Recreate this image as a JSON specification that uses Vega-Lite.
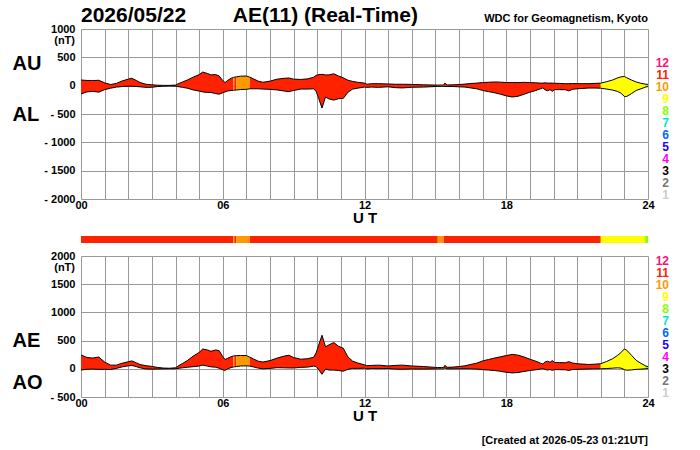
{
"$schema":"https://vega.github.io/schema/vega-lite/v6.json",
"padding":{"left":12,"top":5,"right":5,"bottom":5},
"background":"white",
"config":{"font":"Liberation Sans","view":{"stroke":null},
 "axis":{"labelFont":"Liberation Sans","labelFontWeight":"bold","labelFontSize":11,"labelColor":"black","titleFont":"Liberation Sans","titleColor":"black","gridColor":"#999999","gridOpacity":1,"gridWidth":1,"labelOverlap":false},
 "text":{"font":"Liberation Sans"}},
"datasets":{
"key":[{"n":1},{"n":2},{"n":3},{"n":4},{"n":5},{"n":6},{"n":7},{"n":8},{"n":9},{"n":10},{"n":11},{"n":12}],
"ae":[
{"t":0,"AU":100,"AL":-145,"AE":245,"AO":-22.5,"n":11,"seg":1},
{"t":0.25,"AU":92,"AL":-110,"AE":202,"AO":-9,"n":11,"seg":1},
{"t":0.5,"AU":90,"AL":-100,"AE":190,"AO":-5,"n":11,"seg":1},
{"t":0.75,"AU":95,"AL":-115,"AE":210,"AO":-10,"n":11,"seg":1},
{"t":1,"AU":50,"AL":-70,"AE":120,"AO":-10,"n":11,"seg":1},
{"t":1.25,"AU":20,"AL":-45,"AE":65,"AO":-12.5,"n":11,"seg":1},
{"t":1.5,"AU":40,"AL":-25,"AE":65,"AO":7.5,"n":11,"seg":1},
{"t":1.75,"AU":85,"AL":-15,"AE":100,"AO":35,"n":11,"seg":1},
{"t":2,"AU":115,"AL":-10,"AE":125,"AO":52.5,"n":11,"seg":1},
{"t":2.15,"AU":130,"AL":-10,"AE":140,"AO":60,"n":11,"seg":1},
{"t":2.35,"AU":90,"AL":-15,"AE":105,"AO":37.5,"n":11,"seg":1},
{"t":2.5,"AU":55,"AL":-20,"AE":75,"AO":17.5,"n":11,"seg":1},
{"t":2.75,"AU":25,"AL":-30,"AE":55,"AO":-2.5,"n":11,"seg":1},
{"t":3,"AU":15,"AL":-28,"AE":43,"AO":-6.5,"n":11,"seg":1},
{"t":3.25,"AU":8,"AL":-15,"AE":23,"AO":-3.5,"n":11,"seg":1},
{"t":3.5,"AU":5,"AL":-8,"AE":13,"AO":-1.5,"n":11,"seg":1},
{"t":3.75,"AU":5,"AL":-5,"AE":10,"AO":0,"n":11,"seg":1},
{"t":4,"AU":10,"AL":-8,"AE":18,"AO":1,"n":11,"seg":1},
{"t":4.15,"AU":40,"AL":-20,"AE":60,"AO":10,"n":11,"seg":1},
{"t":4.3,"AU":65,"AL":-30,"AE":95,"AO":17.5,"n":11,"seg":1},
{"t":4.5,"AU":100,"AL":-45,"AE":145,"AO":27.5,"n":11,"seg":1},
{"t":4.75,"AU":150,"AL":-75,"AE":225,"AO":37.5,"n":11,"seg":1},
{"t":5,"AU":195,"AL":-95,"AE":290,"AO":50,"n":11,"seg":1},
{"t":5.15,"AU":240,"AL":-110,"AE":350,"AO":65,"n":11,"seg":1},
{"t":5.35,"AU":215,"AL":-120,"AE":335,"AO":47.5,"n":11,"seg":1},
{"t":5.5,"AU":190,"AL":-120,"AE":310,"AO":35,"n":11,"seg":1},
{"t":5.7,"AU":195,"AL":-140,"AE":335,"AO":27.5,"n":11,"seg":1},
{"t":5.85,"AU":170,"AL":-150,"AE":320,"AO":10,"n":11,"seg":1},
{"t":6,"AU":90,"AL":-125,"AE":215,"AO":-17.5,"n":11,"seg":1},
{"t":6.1,"AU":55,"AL":-110,"AE":165,"AO":-27.5,"n":11,"seg":1},
{"t":6.2,"AU":90,"AL":-95,"AE":185,"AO":-2.5,"n":11,"seg":1},
{"t":6.35,"AU":130,"AL":-85,"AE":215,"AO":22.5,"n":11,"seg":1},
{"t":6.45,"AU":145,"AL":-82,"AE":227,"AO":31.5,"n":11,"seg":1},
{"t":6.45,"AU":145,"AL":-82,"AE":227,"AO":31.5,"n":10,"seg":2},
{"t":6.49,"AU":150,"AL":-80,"AE":230,"AO":35,"n":10,"seg":2},
{"t":6.49,"AU":150,"AL":-80,"AE":230,"AO":35,"n":11,"seg":3},
{"t":6.57,"AU":155,"AL":-78,"AE":233,"AO":38.5,"n":11,"seg":3},
{"t":6.57,"AU":155,"AL":-78,"AE":233,"AO":38.5,"n":10,"seg":4},
{"t":6.75,"AU":168,"AL":-68,"AE":236,"AO":50,"n":10,"seg":4},
{"t":7,"AU":170,"AL":-65,"AE":235,"AO":52.5,"n":10,"seg":4},
{"t":7.15,"AU":150,"AL":-55,"AE":205,"AO":47.5,"n":10,"seg":4},
{"t":7.15,"AU":150,"AL":-55,"AE":205,"AO":47.5,"n":11,"seg":5},
{"t":7.3,"AU":120,"AL":-55,"AE":175,"AO":32.5,"n":11,"seg":5},
{"t":7.5,"AU":80,"AL":-55,"AE":135,"AO":12.5,"n":11,"seg":5},
{"t":7.7,"AU":60,"AL":-60,"AE":120,"AO":0,"n":11,"seg":5},
{"t":8,"AU":80,"AL":-65,"AE":145,"AO":7.5,"n":11,"seg":5},
{"t":8.3,"AU":115,"AL":-75,"AE":190,"AO":20,"n":11,"seg":5},
{"t":8.6,"AU":130,"AL":-95,"AE":225,"AO":17.5,"n":11,"seg":5},
{"t":8.8,"AU":135,"AL":-105,"AE":240,"AO":15,"n":11,"seg":5},
{"t":9,"AU":115,"AL":-85,"AE":200,"AO":15,"n":11,"seg":5},
{"t":9.3,"AU":110,"AL":-60,"AE":170,"AO":25,"n":11,"seg":5},
{"t":9.6,"AU":120,"AL":-60,"AE":180,"AO":30,"n":11,"seg":5},
{"t":9.85,"AU":150,"AL":-55,"AE":205,"AO":47.5,"n":11,"seg":5},
{"t":9.95,"AU":180,"AL":-100,"AE":280,"AO":40,"n":11,"seg":5},
{"t":10.05,"AU":195,"AL":-210,"AE":405,"AO":-7.5,"n":11,"seg":5},
{"t":10.2,"AU":200,"AL":-395,"AE":595,"AO":-97.5,"n":11,"seg":5},
{"t":10.35,"AU":190,"AL":-200,"AE":390,"AO":-5,"n":11,"seg":5},
{"t":10.5,"AU":190,"AL":-235,"AE":425,"AO":-22.5,"n":11,"seg":5},
{"t":10.7,"AU":210,"AL":-255,"AE":465,"AO":-22.5,"n":11,"seg":5},
{"t":10.9,"AU":170,"AL":-230,"AE":400,"AO":-30,"n":11,"seg":5},
{"t":11.1,"AU":140,"AL":-225,"AE":365,"AO":-42.5,"n":11,"seg":5},
{"t":11.3,"AU":95,"AL":-115,"AE":210,"AO":-10,"n":11,"seg":5},
{"t":11.5,"AU":75,"AL":-60,"AE":135,"AO":7.5,"n":11,"seg":5},
{"t":11.7,"AU":60,"AL":-45,"AE":105,"AO":7.5,"n":11,"seg":5},
{"t":12,"AU":45,"AL":-25,"AE":70,"AO":10,"n":11,"seg":5},
{"t":12.1,"AU":25,"AL":-30,"AE":55,"AO":-2.5,"n":11,"seg":5},
{"t":12.3,"AU":35,"AL":-25,"AE":60,"AO":5,"n":11,"seg":5},
{"t":12.6,"AU":35,"AL":-30,"AE":65,"AO":2.5,"n":11,"seg":5},
{"t":13,"AU":30,"AL":-20,"AE":50,"AO":5,"n":11,"seg":5},
{"t":13.3,"AU":25,"AL":-35,"AE":60,"AO":-5,"n":11,"seg":5},
{"t":13.6,"AU":25,"AL":-40,"AE":65,"AO":-7.5,"n":11,"seg":5},
{"t":14,"AU":22,"AL":-28,"AE":50,"AO":-3,"n":11,"seg":5},
{"t":14.5,"AU":15,"AL":-25,"AE":40,"AO":-5,"n":11,"seg":5},
{"t":15,"AU":10,"AL":-15,"AE":25,"AO":-2.5,"n":11,"seg":5},
{"t":15.1,"AU":10,"AL":-12,"AE":22,"AO":-1,"n":11,"seg":5},
{"t":15.1,"AU":10,"AL":-12,"AE":22,"AO":-1,"n":10,"seg":6},
{"t":15.25,"AU":12,"AL":-12,"AE":24,"AO":0,"n":10,"seg":6},
{"t":15.35,"AU":10,"AL":-12,"AE":22,"AO":-1,"n":10,"seg":6},
{"t":15.35,"AU":10,"AL":-12,"AE":22,"AO":-1,"n":11,"seg":7},
{"t":15.4,"AU":45,"AL":-15,"AE":60,"AO":15,"n":11,"seg":7},
{"t":15.5,"AU":12,"AL":-15,"AE":27,"AO":-1.5,"n":11,"seg":7},
{"t":15.75,"AU":15,"AL":-15,"AE":30,"AO":0,"n":11,"seg":7},
{"t":16,"AU":20,"AL":-20,"AE":40,"AO":0,"n":11,"seg":7},
{"t":16.25,"AU":28,"AL":-25,"AE":53,"AO":1.5,"n":11,"seg":7},
{"t":16.5,"AU":38,"AL":-40,"AE":78,"AO":-1,"n":11,"seg":7},
{"t":16.75,"AU":45,"AL":-55,"AE":100,"AO":-5,"n":11,"seg":7},
{"t":17,"AU":55,"AL":-85,"AE":140,"AO":-15,"n":11,"seg":7},
{"t":17.25,"AU":60,"AL":-105,"AE":165,"AO":-22.5,"n":11,"seg":7},
{"t":17.5,"AU":65,"AL":-125,"AE":190,"AO":-30,"n":11,"seg":7},
{"t":17.75,"AU":62,"AL":-150,"AE":212,"AO":-44,"n":11,"seg":7},
{"t":18,"AU":55,"AL":-180,"AE":235,"AO":-62.5,"n":11,"seg":7},
{"t":18.25,"AU":55,"AL":-200,"AE":255,"AO":-72.5,"n":11,"seg":7},
{"t":18.5,"AU":55,"AL":-187,"AE":242,"AO":-66,"n":11,"seg":7},
{"t":18.75,"AU":58,"AL":-152,"AE":210,"AO":-47,"n":11,"seg":7},
{"t":19,"AU":55,"AL":-115,"AE":170,"AO":-30,"n":11,"seg":7},
{"t":19.25,"AU":50,"AL":-85,"AE":135,"AO":-17.5,"n":11,"seg":7},
{"t":19.45,"AU":45,"AL":-55,"AE":100,"AO":-5,"n":11,"seg":7},
{"t":19.55,"AU":45,"AL":-40,"AE":85,"AO":2.5,"n":11,"seg":7},
{"t":19.65,"AU":50,"AL":-75,"AE":125,"AO":-12.5,"n":11,"seg":7},
{"t":19.75,"AU":45,"AL":-90,"AE":135,"AO":-22.5,"n":11,"seg":7},
{"t":19.85,"AU":45,"AL":-70,"AE":115,"AO":-12.5,"n":11,"seg":7},
{"t":19.95,"AU":45,"AL":-100,"AE":145,"AO":-27.5,"n":11,"seg":7},
{"t":20.05,"AU":42,"AL":-70,"AE":112,"AO":-14,"n":11,"seg":7},
{"t":20.25,"AU":40,"AL":-70,"AE":110,"AO":-15,"n":11,"seg":7},
{"t":20.5,"AU":35,"AL":-72,"AE":107,"AO":-18.5,"n":11,"seg":7},
{"t":20.65,"AU":35,"AL":-92,"AE":127,"AO":-28.5,"n":11,"seg":7},
{"t":20.8,"AU":38,"AL":-65,"AE":103,"AO":-13.5,"n":11,"seg":7},
{"t":21,"AU":35,"AL":-55,"AE":90,"AO":-10,"n":11,"seg":7},
{"t":21.25,"AU":35,"AL":-48,"AE":83,"AO":-6.5,"n":11,"seg":7},
{"t":21.5,"AU":35,"AL":-42,"AE":77,"AO":-3.5,"n":11,"seg":7},
{"t":21.75,"AU":40,"AL":-42,"AE":82,"AO":-1,"n":11,"seg":7},
{"t":22,"AU":45,"AL":-45,"AE":90,"AO":0,"n":11,"seg":7},
{"t":22,"AU":45,"AL":-45,"AE":90,"AO":0,"n":9,"seg":8},
{"t":22.25,"AU":70,"AL":-60,"AE":130,"AO":5,"n":9,"seg":8},
{"t":22.5,"AU":100,"AL":-78,"AE":178,"AO":11,"n":9,"seg":8},
{"t":22.7,"AU":135,"AL":-100,"AE":235,"AO":17.5,"n":9,"seg":8},
{"t":22.85,"AU":155,"AL":-130,"AE":285,"AO":12.5,"n":9,"seg":8},
{"t":23,"AU":162,"AL":-190,"AE":352,"AO":-14,"n":9,"seg":8},
{"t":23.1,"AU":140,"AL":-190,"AE":330,"AO":-25,"n":9,"seg":8},
{"t":23.3,"AU":100,"AL":-140,"AE":240,"AO":-20,"n":9,"seg":8},
{"t":23.5,"AU":65,"AL":-85,"AE":150,"AO":-10,"n":9,"seg":8},
{"t":23.7,"AU":42,"AL":-55,"AE":97,"AO":-6.5,"n":9,"seg":8},
{"t":23.88,"AU":28,"AL":-27,"AE":55,"AO":0.5,"n":9,"seg":8},
{"t":23.88,"AU":28,"AL":-27,"AE":55,"AO":0.5,"n":8,"seg":9},
{"t":24,"AU":22,"AL":-15,"AE":37,"AO":3.5,"n":8,"seg":9}
]},
"spacing":37,
"bounds":"flush",
"vconcat":[
{
 "width":567,"height":170,
 "title":{"text":"2026/05/22\u00a0\u00a0\u00a0\u00a0\u00a0\u00a0\u00a0\u00a0AE(11) (Real-Time)","anchor":"start","frame":"group","font":"Liberation Sans","fontSize":21,"fontWeight":"bold","color":"black","offset":0,"dy":13},
 "resolve":{"scale":{"y":"independent"}},
 "layer":[
  {"data":{"name":"ae"},
   "layer":[
    {"mark":{"type":"area"},
     "encoding":{
      "x":{"field":"t","type":"quantitative","scale":{"domain":[0,24],"nice":false,"zero":false},
       "axis":{"values":[0,1,2,3,4,5,6,7,8,9,10,11,12,13,14,15,16,17,18,19,20,21,22,23,24],"tickCount":100,"labelExpr":"datum.value % 6 == 0 ? format(datum.value, '02d') : ''","grid":true,"ticks":false,"domain":false,"labelFlush":false,"labelOverlap":false,"labelPadding":0,"title":"U T","titleFontSize":15,"titleFontWeight":"bold","titlePadding":0}},
      "y":{"field":"AL","type":"quantitative","scale":{"domain":[-2000,1000],"nice":false,"zero":false},
       "axis":{"orient":"left","values":[-2000,-1500,-1000,-500,0,500,1000],"tickCount":100,"labelExpr":"datum.value < 0 ? '- ' + format(-datum.value, 'd') : format(datum.value, 'd')","grid":true,"ticks":false,"domain":false,"labelOverlap":false,"labelPadding":6,
        "title":["AU","AL"],"titleAngle":0,"titleAlign":"left","titleBaseline":"middle","titleX":-69,"titleY":34,"titleLineHeight":51,"titleFontSize":20,"titleFontWeight":"bold"}},
      "y2":{"field":"AU"},
      "color":{"field":"n","type":"ordinal","scale":{"domain":[1,2,3,4,5,6,7,8,9,10,11,12],"range":["#cccccc","#777777","#000000","#ff00ff","#2200ff","#0066ff","#00e6cc","#88ff00","#ffff00","#ff9900","#ff2200","#ff1177"]},"legend":null},
      "detail":{"field":"seg"}}},
    {"mark":{"type":"line","color":"black","strokeWidth":1},
     "encoding":{"x":{"field":"t","type":"quantitative"},"y":{"field":"AU","type":"quantitative"}}},
    {"mark":{"type":"line","color":"black","strokeWidth":1},
     "encoding":{"x":{"field":"t","type":"quantitative"},"y":{"field":"AL","type":"quantitative"}}},
    {"data":{"values":[{"label":"WDC for Geomagnetism, Kyoto"}]},
     "mark":{"type":"text","align":"right","baseline":"bottom","dy":-5,"fontSize":11,"fontWeight":"bold","color":"black"},
     "encoding":{"x":{"datum":24,"type":"quantitative"},"y":{"datum":1000,"type":"quantitative"},"text":{"field":"label"}}},
    {"data":{"values":[{"unit":"(nT)"}]},
     "mark":{"type":"text","align":"right","baseline":"middle","dx":-6,"dy":12,"fontSize":11,"fontWeight":"bold","color":"black"},
     "encoding":{"x":{"datum":0,"type":"quantitative"},"y":{"datum":1000,"type":"quantitative"},"text":{"field":"unit"}}}
   ]},
  {"data":{"name":"key"},
   "mark":{"type":"text","align":"right","baseline":"middle","dx":21,"fontSize":12,"fontWeight":"bold"},
   "encoding":{"x":{"datum":24,"type":"quantitative"},
    "y":{"field":"n","type":"quantitative","scale":{"domain":[0.667,14.833],"nice":false,"zero":false},"axis":{"orient":"right","labels":false,"ticks":false,"domain":false,"grid":false,"title":null}},
    "text":{"field":"n","type":"nominal"},
    "color":{"field":"n","type":"ordinal","scale":{"domain":[1,2,3,4,5,6,7,8,9,10,11,12],"range":["#cccccc","#777777","#000000","#ff00ff","#2200ff","#0066ff","#00e6cc","#88ff00","#ffff00","#ff9900","#ff2200","#ff1177"]},"legend":null}}}
 ]
},
{
 "spacing":13,
 "bounds":"flush",
 "vconcat":[
  {"width":567,"height":7,
   "data":{"name":"ae"},
   "transform":[{"aggregate":[{"op":"min","field":"t","as":"t0"},{"op":"max","field":"t","as":"t1"}],"groupby":["seg","n"]}],
   "mark":{"type":"rect"},
   "encoding":{"x":{"field":"t0","type":"quantitative","scale":{"domain":[0,24],"nice":false,"zero":false},"axis":null},"x2":{"field":"t1"},
    "color":{"field":"n","type":"ordinal","scale":{"domain":[1,2,3,4,5,6,7,8,9,10,11,12],"range":["#cccccc","#777777","#000000","#ff00ff","#2200ff","#0066ff","#00e6cc","#88ff00","#ffff00","#ff9900","#ff2200","#ff1177"]},"legend":null}}},
  {"width":567,"height":141,
   "title":{"text":"[Created at 2026-05-23 01:21UT]","orient":"bottom","anchor":"end","frame":"group","font":"Liberation Sans","fontSize":11,"fontWeight":"bold","color":"black","offset":12},
   "resolve":{"scale":{"y":"independent"}},
   "layer":[
    {"data":{"name":"ae"},
     "layer":[
      {"mark":{"type":"area"},
       "encoding":{
        "x":{"field":"t","type":"quantitative","scale":{"domain":[0,24],"nice":false,"zero":false},
         "axis":{"values":[0,1,2,3,4,5,6,7,8,9,10,11,12,13,14,15,16,17,18,19,20,21,22,23,24],"tickCount":100,"labelExpr":"datum.value % 6 == 0 ? format(datum.value, '02d') : ''","grid":true,"ticks":false,"domain":false,"labelFlush":false,"labelOverlap":false,"labelPadding":0,"title":"U T","titleFontSize":15,"titleFontWeight":"bold","titlePadding":0}},
        "y":{"field":"AO","type":"quantitative","scale":{"domain":[-500,2000],"nice":false,"zero":false},
         "axis":{"orient":"left","values":[-500,0,500,1000,1500,2000],"tickCount":100,"labelExpr":"datum.value < 0 ? '- ' + format(-datum.value, 'd') : format(datum.value, 'd')","grid":true,"ticks":false,"domain":false,"labelOverlap":false,"labelPadding":6,
          "title":["AE","AO"],"titleAngle":0,"titleAlign":"left","titleBaseline":"middle","titleX":-69,"titleY":84,"titleLineHeight":42.5,"titleFontSize":20,"titleFontWeight":"bold"}},
        "y2":{"field":"AE"},
        "color":{"field":"n","type":"ordinal","scale":{"domain":[1,2,3,4,5,6,7,8,9,10,11,12],"range":["#cccccc","#777777","#000000","#ff00ff","#2200ff","#0066ff","#00e6cc","#88ff00","#ffff00","#ff9900","#ff2200","#ff1177"]},"legend":null},
        "detail":{"field":"seg"}}},
      {"mark":{"type":"line","color":"black","strokeWidth":1},
       "encoding":{"x":{"field":"t","type":"quantitative"},"y":{"field":"AE","type":"quantitative"}}},
      {"mark":{"type":"line","color":"black","strokeWidth":1},
       "encoding":{"x":{"field":"t","type":"quantitative"},"y":{"field":"AO","type":"quantitative"}}},
      {"data":{"values":[{"unit":"(nT)"}]},
       "mark":{"type":"text","align":"right","baseline":"middle","dx":-6,"dy":12,"fontSize":11,"fontWeight":"bold","color":"black"},
       "encoding":{"x":{"datum":0,"type":"quantitative"},"y":{"datum":2000,"type":"quantitative"},"text":{"field":"unit"}}}
     ]},
    {"data":{"name":"key"},
     "mark":{"type":"text","align":"right","baseline":"middle","dx":21,"fontSize":12,"fontWeight":"bold"},
     "encoding":{"x":{"datum":24,"type":"quantitative"},
      "y":{"field":"n","type":"quantitative","scale":{"domain":[0.667,12.417],"nice":false,"zero":false},"axis":{"orient":"right","labels":false,"ticks":false,"domain":false,"grid":false,"title":null}},
      "text":{"field":"n","type":"nominal"},
      "color":{"field":"n","type":"ordinal","scale":{"domain":[1,2,3,4,5,6,7,8,9,10,11,12],"range":["#cccccc","#777777","#000000","#ff00ff","#2200ff","#0066ff","#00e6cc","#88ff00","#ffff00","#ff9900","#ff2200","#ff1177"]},"legend":null}}}
   ]}
 ]
}
]
}
